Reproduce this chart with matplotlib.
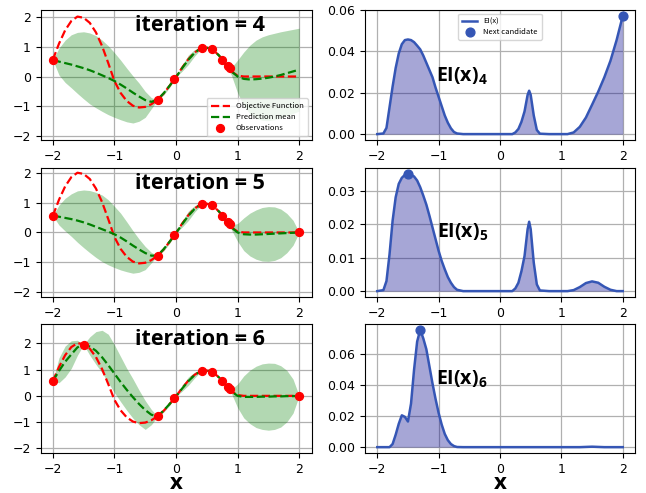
import numpy as np
import matplotlib
matplotlib.use("Agg")
import matplotlib.pyplot as plt

plt.rcParams['font.family'] = ['DejaVu Sans']
plt.rcParams['mathtext.fontset'] = 'custom'
plt.rcParams['mathtext.bf'] = 'Open Sans:bold'
plt.rcParams['mathtext.rm'] = 'Open Sans'

# x grid of the GP panels (-2 ... 2, step 0.1)
x_gp = np.linspace(-2, 2, 41)

objective = [0.56, 1.10, 1.55, 1.86, 2.01, 1.97, 1.80, 1.48, 1.02, 0.45,
             -0.15, -0.55, -0.82, -0.98, -1.04, -1.02, -0.93, -0.78, -0.57, -0.30,
             -0.02, 0.30, 0.58, 0.80, 0.95, 0.97, 0.90, 0.70, 0.43, 0.17,
             0.03, 0.0, 0.0, 0.0, 0.0, 0.0, 0.0, 0.0, 0.0, 0.0, 0.0]

# shared middle section (-0.2 ... 0.8)
mid_mean = [-0.56, -0.30, -0.02, 0.28, 0.56, 0.79, 0.94, 0.97, 0.90, 0.70, 0.43]
mid_upper = [-0.50, -0.24, -0.02, 0.38, 0.72, 0.90, 0.97, 1.00, 0.91, 0.73, 0.45]
mid_lower = [-0.62, -0.36, -0.02, 0.18, 0.40, 0.68, 0.91, 0.94, 0.89, 0.67, 0.41]

# iteration 4
mean_4 = ([0.56, 0.50, 0.45, 0.40, 0.34, 0.28, 0.21, 0.13, 0.04, -0.05,
           -0.15, -0.27, -0.40, -0.54, -0.67, -0.79, -0.85, -0.78] + mid_mean +
          [0.17, 0.0, -0.08, -0.10, -0.09, -0.07, -0.04, 0.0, 0.05, 0.11, 0.17, 0.23])
upper_4 = ([0.56, 0.95, 1.22, 1.40, 1.48, 1.50, 1.46, 1.37, 1.22, 1.03,
            0.80, 0.55, 0.28, 0.02, -0.22, -0.50, -0.71, -0.78] + mid_upper +
           [0.30, 0.55, 0.82, 1.05, 1.22, 1.33, 1.40, 1.45, 1.50, 1.54, 1.58, 1.62])
lower_4 = ([0.56, 0.05, -0.20, -0.38, -0.57, -0.75, -0.92, -1.05, -1.17, -1.28,
            -1.37, -1.45, -1.52, -1.56, -1.50, -1.37, -1.08, -0.78] + mid_lower +
           [0.04, -0.55, -0.98, -1.25, -1.40, -1.47, -1.48, -1.45, -1.40, -1.32, -1.24, -1.16])

# iteration 5
mean_5 = ([0.56, 0.53, 0.49, 0.45, 0.40, 0.34, 0.27, 0.19, 0.11, 0.03,
           -0.06, -0.17, -0.30, -0.44, -0.57, -0.69, -0.78, -0.78] + mid_mean +
          [0.17, 0.0, -0.06, -0.07, -0.07, -0.06, -0.05, -0.04, -0.03, -0.02, -0.01, 0.0])
upper_5 = ([0.56, 0.92, 1.15, 1.30, 1.40, 1.43, 1.41, 1.35, 1.26, 1.10,
            0.88, 0.65, 0.36, 0.06, -0.22, -0.47, -0.67, -0.78] + mid_upper +
           [0.25, 0.30, 0.49, 0.65, 0.76, 0.84, 0.87, 0.86, 0.79, 0.64, 0.41, 0.0])
lower_5 = ([0.56, 0.25, 0.05, -0.13, -0.33, -0.51, -0.68, -0.84, -0.98, -1.09,
            -1.18, -1.26, -1.32, -1.37, -1.34, -1.25, -1.02, -0.78] + mid_lower +
           [0.09, -0.30, -0.61, -0.79, -0.90, -0.96, -0.97, -0.94, -0.85, -0.68, -0.43, 0.0])

# iteration 6
mean_6 = ([0.56, 0.95, 1.30, 1.58, 1.85, 1.95, 1.88, 1.72, 1.47, 1.17,
           0.85, 0.53, 0.23, -0.05, -0.31, -0.54, -0.72, -0.78] + mid_mean +
          [0.17, 0.0, -0.04, -0.04, -0.04, -0.03, -0.03, -0.02, -0.02, -0.01, -0.01, 0.0])
upper_6 = ([0.56, 1.45, 1.90, 2.10, 2.12, 1.95, 2.25, 2.45, 2.50, 2.35,
            1.95, 1.50, 1.05, 0.65, 0.22, -0.18, -0.52, -0.78] + mid_upper +
           [0.25, 0.45, 0.76, 0.98, 1.13, 1.22, 1.25, 1.24, 1.15, 0.97, 0.64, 0.0])
lower_6 = ([0.56, 0.50, 0.72, 1.05, 1.55, 1.95, 1.55, 1.20, 0.88, 0.50,
            0.12, -0.22, -0.55, -0.85, -1.10, -1.28, -1.10, -0.78] + mid_lower +
           [0.09, -0.45, -0.84, -1.06, -1.21, -1.28, -1.31, -1.28, -1.19, -0.99, -0.66, 0.0])

obs_x_4 = [-2.0, -0.3, -0.03, 0.43, 0.58, 0.75, 0.84, 0.87]
obs_y_4 = [0.56, -0.78, -0.10, 0.96, 0.92, 0.57, 0.34, 0.27]
obs_x_5 = obs_x_4 + [2.0]
obs_y_5 = obs_y_4 + [0.0]
obs_x_6 = obs_x_5 + [-1.5]
obs_y_6 = obs_y_5 + [1.95]

# expected improvement curves
ei_x_4 = [-2.0, -1.9, -1.85, -1.8, -1.75, -1.7, -1.65, -1.6, -1.55, -1.5, -1.45, -1.4,
          -1.35, -1.3, -1.25, -1.2, -1.15, -1.1, -1.05, -1.0, -0.95, -0.9, -0.85, -0.8,
          -0.75, -0.7, -0.6, 0.0, 0.2, 0.25, 0.3, 0.35, 0.4, 0.45, 0.475, 0.5, 0.55,
          0.6, 0.65, 0.8, 1.1, 1.2, 1.3, 1.4, 1.5, 1.6, 1.7, 1.8, 1.9, 2.0]
ei_y_4 = [0.0, 0.0003, 0.003, 0.013, 0.023, 0.032, 0.039, 0.0435, 0.0455, 0.0458, 0.0455, 0.0445,
          0.0428, 0.041, 0.038, 0.0345, 0.031, 0.0275, 0.0225, 0.018, 0.0135, 0.009, 0.0055, 0.0028,
          0.001, 0.0003, 0.0, 0.0, 0.0, 0.0008, 0.0025, 0.006, 0.011, 0.019, 0.021, 0.019, 0.009,
          0.002, 0.0002, 0.0, 0.0, 0.0008, 0.0035, 0.008, 0.0142, 0.0205, 0.0275, 0.0355, 0.0455, 0.0572]

ei_x_5 = [-2.0, -1.9, -1.85, -1.8, -1.75, -1.7, -1.65, -1.6, -1.55, -1.5, -1.45, -1.4,
          -1.35, -1.3, -1.25, -1.2, -1.15, -1.1, -1.05, -1.0, -0.95, -0.9, -0.85, -0.8,
          -0.75, -0.7, -0.6, 0.0, 0.2, 0.25, 0.3, 0.35, 0.4, 0.45, 0.475, 0.5, 0.55,
          0.6, 0.65, 0.8, 1.1, 1.2, 1.3, 1.4, 1.5, 1.6, 1.7, 1.8, 1.9, 2.0]
ei_y_5 = [0.0, 0.0003, 0.003, 0.011, 0.021, 0.028, 0.032, 0.0338, 0.0347, 0.035, 0.0348, 0.0342,
          0.033, 0.031, 0.0285, 0.0258, 0.0225, 0.019, 0.0155, 0.012, 0.009, 0.0065, 0.0042, 0.0025,
          0.0012, 0.0004, 0.0, 0.0, 0.0, 0.0008, 0.0025, 0.006, 0.0105, 0.0185, 0.0207, 0.0185, 0.0085,
          0.002, 0.0002, 0.0, 0.0, 0.0003, 0.0012, 0.0024, 0.0029, 0.0025, 0.0013, 0.0004, 0.0, 0.0]

ei_x_6 = [-2.0, -1.8, -1.75, -1.7, -1.65, -1.6, -1.55, -1.5, -1.45, -1.4, -1.35, -1.3,
          -1.25, -1.2, -1.15, -1.1, -1.05, -1.0, -0.95, -0.9, -0.85, -0.8, -0.75, -0.7,
          -0.6, 1.3, 1.5, 1.7, 2.0]
ei_y_6 = [0.0, 0.0, 0.002, 0.008, 0.015, 0.0205, 0.0195, 0.0165, 0.028, 0.050, 0.068, 0.0755,
          0.070, 0.063, 0.052, 0.041, 0.031, 0.022, 0.0145, 0.0085, 0.0045, 0.002, 0.0007, 0.0001,
          0.0, 0.0, 0.0003, 0.0, 0.0]

next_x = [2.0, -1.5, -1.3]
next_y = [0.0572, 0.035, 0.0755]

iterations = [4, 5, 6]
means = [mean_4, mean_5, mean_6]
uppers = [upper_4, upper_5, upper_6]
lowers = [lower_4, lower_5, lower_6]
obs_xs = [obs_x_4, obs_x_5, obs_x_6]
obs_ys = [obs_y_4, obs_y_5, obs_y_6]
ei_xs = [ei_x_4, ei_x_5, ei_x_6]
ei_ys = [ei_y_4, ei_y_5, ei_y_6]

gp_ylims = [(-2.13, 2.23), (-2.17, 2.17), (-2.18, 2.74)]
ei_ticks = [[0, 0.02, 0.04, 0.06], [0, 0.01, 0.02, 0.03], [0, 0.02, 0.04, 0.06]]
ei_text_y = [0.49, 0.50, 0.57]
row_rects = [(0.716, 0.2637), (0.3976, 0.2617), (0.0811, 0.2617)]

fig = plt.figure(figsize=(6.46, 4.93), dpi=100)
bold_font = ['Open Sans', 'DejaVu Sans']
legend_font = ['Noto Sans CJK KR', 'DejaVu Sans']

for i, it in enumerate(iterations):
    bottom, height = row_rects[i]
    ax = fig.add_axes([0.0627, bottom, 0.4195, height])
    ax.fill_between(x_gp, lowers[i], uppers[i], color='green', alpha=0.3, linewidth=0)
    ax.plot(x_gp, objective, '--', color='red', linewidth=1.6, label='Objective Function')
    ax.plot(x_gp, means[i], '--', color='green', linewidth=1.6, label='Prediction mean')
    ax.scatter(obs_xs[i], obs_ys[i], color='red', s=32, zorder=5, label='Observations')
    ax.set_xlim(-2.2, 2.2)
    ax.set_ylim(*gp_ylims[i])
    ax.set_xticks([-2, -1, 0, 1, 2])
    ax.set_yticks([-2, -1, 0, 1, 2])
    ax.tick_params(labelsize=9)
    ax.grid(True, color='#b0b0b0', linewidth=0.9)
    ax.set_axisbelow(True)
    ax.text(0.59, 0.88, 'iteration = %d' % it, transform=ax.transAxes, ha='center',
            va='center', fontsize=15.5, fontweight='bold', family=bold_font)
    if i == 0:
        ax.legend(loc='lower right', prop={'family': legend_font, 'size': 5.5},
                  handlelength=2.5, borderpad=0.5, labelspacing=0.4)

    ax2 = fig.add_axes([0.565, bottom, 0.418, height])
    ax2.plot(ei_xs[i], ei_ys[i], color='#3556b5', linewidth=1.8, label='EI(x)')
    ax2.fill_between(ei_xs[i], 0, ei_ys[i], color='darkblue', alpha=0.35, linewidth=0)
    ax2.scatter([next_x[i]], [next_y[i]], color='#3556b5', s=40, zorder=5, label='Next candidate')
    ax2.set_xticks([-2, -1, 0, 1, 2])
    ax2.set_yticks(ei_ticks[i])
    ax2.set_yticklabels(['%.2f' % t for t in ei_ticks[i]])
    ax2.tick_params(labelsize=9)
    ax2.grid(True, color='#b0b0b0', linewidth=0.9)
    ax2.set_axisbelow(True)
    ax2.text(0.36, ei_text_y[i], r'$\mathbf{EI(x)_%d}$' % it, transform=ax2.transAxes,
             ha='center', va='center', fontsize=14)
    if i == 0:
        ax2.legend(loc='upper center', prop={'family': legend_font, 'size': 5.5},
                   handlelength=2.0, borderpad=0.5, labelspacing=0.3)

# x labels under the bottom row
fig.text(0.0627 + 0.4195 / 2, 0.008, 'x', ha='center', va='baseline',
         fontsize=16, fontweight='bold', family=bold_font)
fig.text(0.565 + 0.418 / 2, 0.008, 'x', ha='center', va='baseline',
         fontsize=16, fontweight='bold', family=bold_font)

fig.savefig('out.png', dpi=100)
